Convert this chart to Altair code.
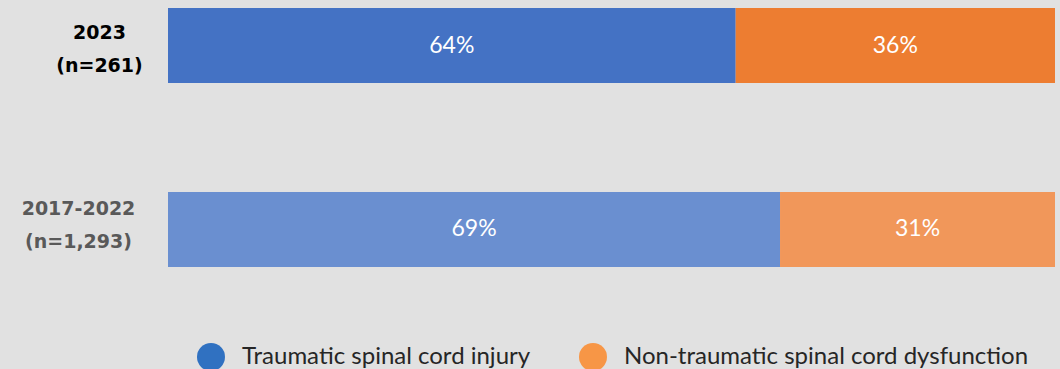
import altair as alt
import pandas as pd

# Share of admissions by aetiology, two reporting periods
periods = ["2023|(n=261)", "2017-2022|(n=1,293)"]
causes = ["Traumatic spinal cord injury", "Non-traumatic spinal cord dysfunction"]
traumatic = [64, 69]
non_traumatic = [36, 31]

# fill per (cause, period): the earlier period is drawn in lighter tints
fills = {
    (causes[0], periods[0]): "#4472c4",
    (causes[1], periods[0]): "#ed7d31",
    (causes[0], periods[1]): "#6a8fd0",
    (causes[1], periods[1]): "#f1975a",
}
legend_colors = ["#3071c1", "#f79646"]

rows = []
for i, p in enumerate(periods):
    for j, (c, v) in enumerate([(causes[0], traumatic[i]), (causes[1], non_traumatic[i])]):
        rows.append({"period": p, "cause": c, "value": v, "order": j, "key": f"{c}/{p}"})
df = pd.DataFrame(rows)

keys = [f"{c}/{p}" for (c, p) in fills]
key_colors = list(fills.values())

bg = "#e1e1e1"
first = f"datum.value == '{periods[0]}'"

y_enc = alt.Y(
    "period:N",
    sort=periods,
    title=None,
    scale=alt.Scale(paddingInner=0.592, paddingOuter=0.0435),
    axis=alt.Axis(
        domain=False,
        ticks=False,
        labelExpr="split(datum.label, '|')",
        labelAlign="center",
        labelBaseline="middle",
        labelFont="DejaVu Sans",
        labelFontWeight="bold",
        labelFontSize=19,
        labelLineHeight=33,
        labelColor={"condition": {"test": first, "value": "#000000"}, "value": "#595959"},
        labelPadding={"condition": {"test": first, "value": 69}, "value": 90},
        labelOffset={"condition": {"test": first, "value": -12.5}, "value": -20},
    ),
)

x_scale = alt.Scale(domain=[0, 100], nice=False, zero=True)

base = alt.Chart(df).transform_stack(
    stack="value",
    groupby=["period"],
    as_=["x0", "x1"],
    sort=[alt.SortField("order", order="ascending")],
).transform_calculate(
    mid="(datum.x0 + datum.x1) / 2",
    pct="datum.value + '%'",
)

bars = base.mark_bar(cornerRadius=0).encode(
    x=alt.X("x0:Q", scale=x_scale, axis=None),
    x2="x1:Q",
    y=y_enc,
    color=alt.Color("key:N", scale=alt.Scale(domain=keys, range=key_colors), legend=None),
)

labels = base.mark_text(
    font="Lato",
    fontSize=23,
    color="#ffffff",
    align="center",
    baseline="middle",
).encode(
    x=alt.X("mid:Q", scale=x_scale, axis=None),
    y=alt.Y("period:N", sort=periods),
    text="pct:N",
)

# legend keyed on cause alone, carried by an invisible point layer
legend_layer = base.mark_point(filled=True, opacity=0).encode(
    x=alt.X("mid:Q", scale=x_scale, axis=None),
    y=alt.Y("period:N", sort=periods),
    fill=alt.Fill(
        "cause:N",
        sort=causes,
        scale=alt.Scale(domain=causes, range=legend_colors),
        legend=alt.Legend(
            title=None,
            orient="none",
            direction="horizontal",
            legendX=29,
            legendY=343,
            symbolType="circle",
            symbolSize=784,
            symbolStrokeWidth=0,
            symbolOpacity=1,
            labelFont="Lato",
            labelFontSize=24,
            labelColor="#262626",
            labelOffset=17,
            labelLimit=0,
            columnPadding=48,
            padding=0,
        ),
    ),
)

chart = (
    alt.layer(bars, labels, legend_layer)
    .resolve_scale(color="independent", fill="independent")
    .properties(
        width=887,
        height=275,
        background=bg,
        padding={"left": 168, "top": 0, "right": 5, "bottom": 94},
        autosize=alt.AutoSizeParams(type="none"),
    )
    .configure_view(stroke=None, fill=bg)
)

chart.save("out.html", embed_options={"renderer": "svg", "actions": False})
